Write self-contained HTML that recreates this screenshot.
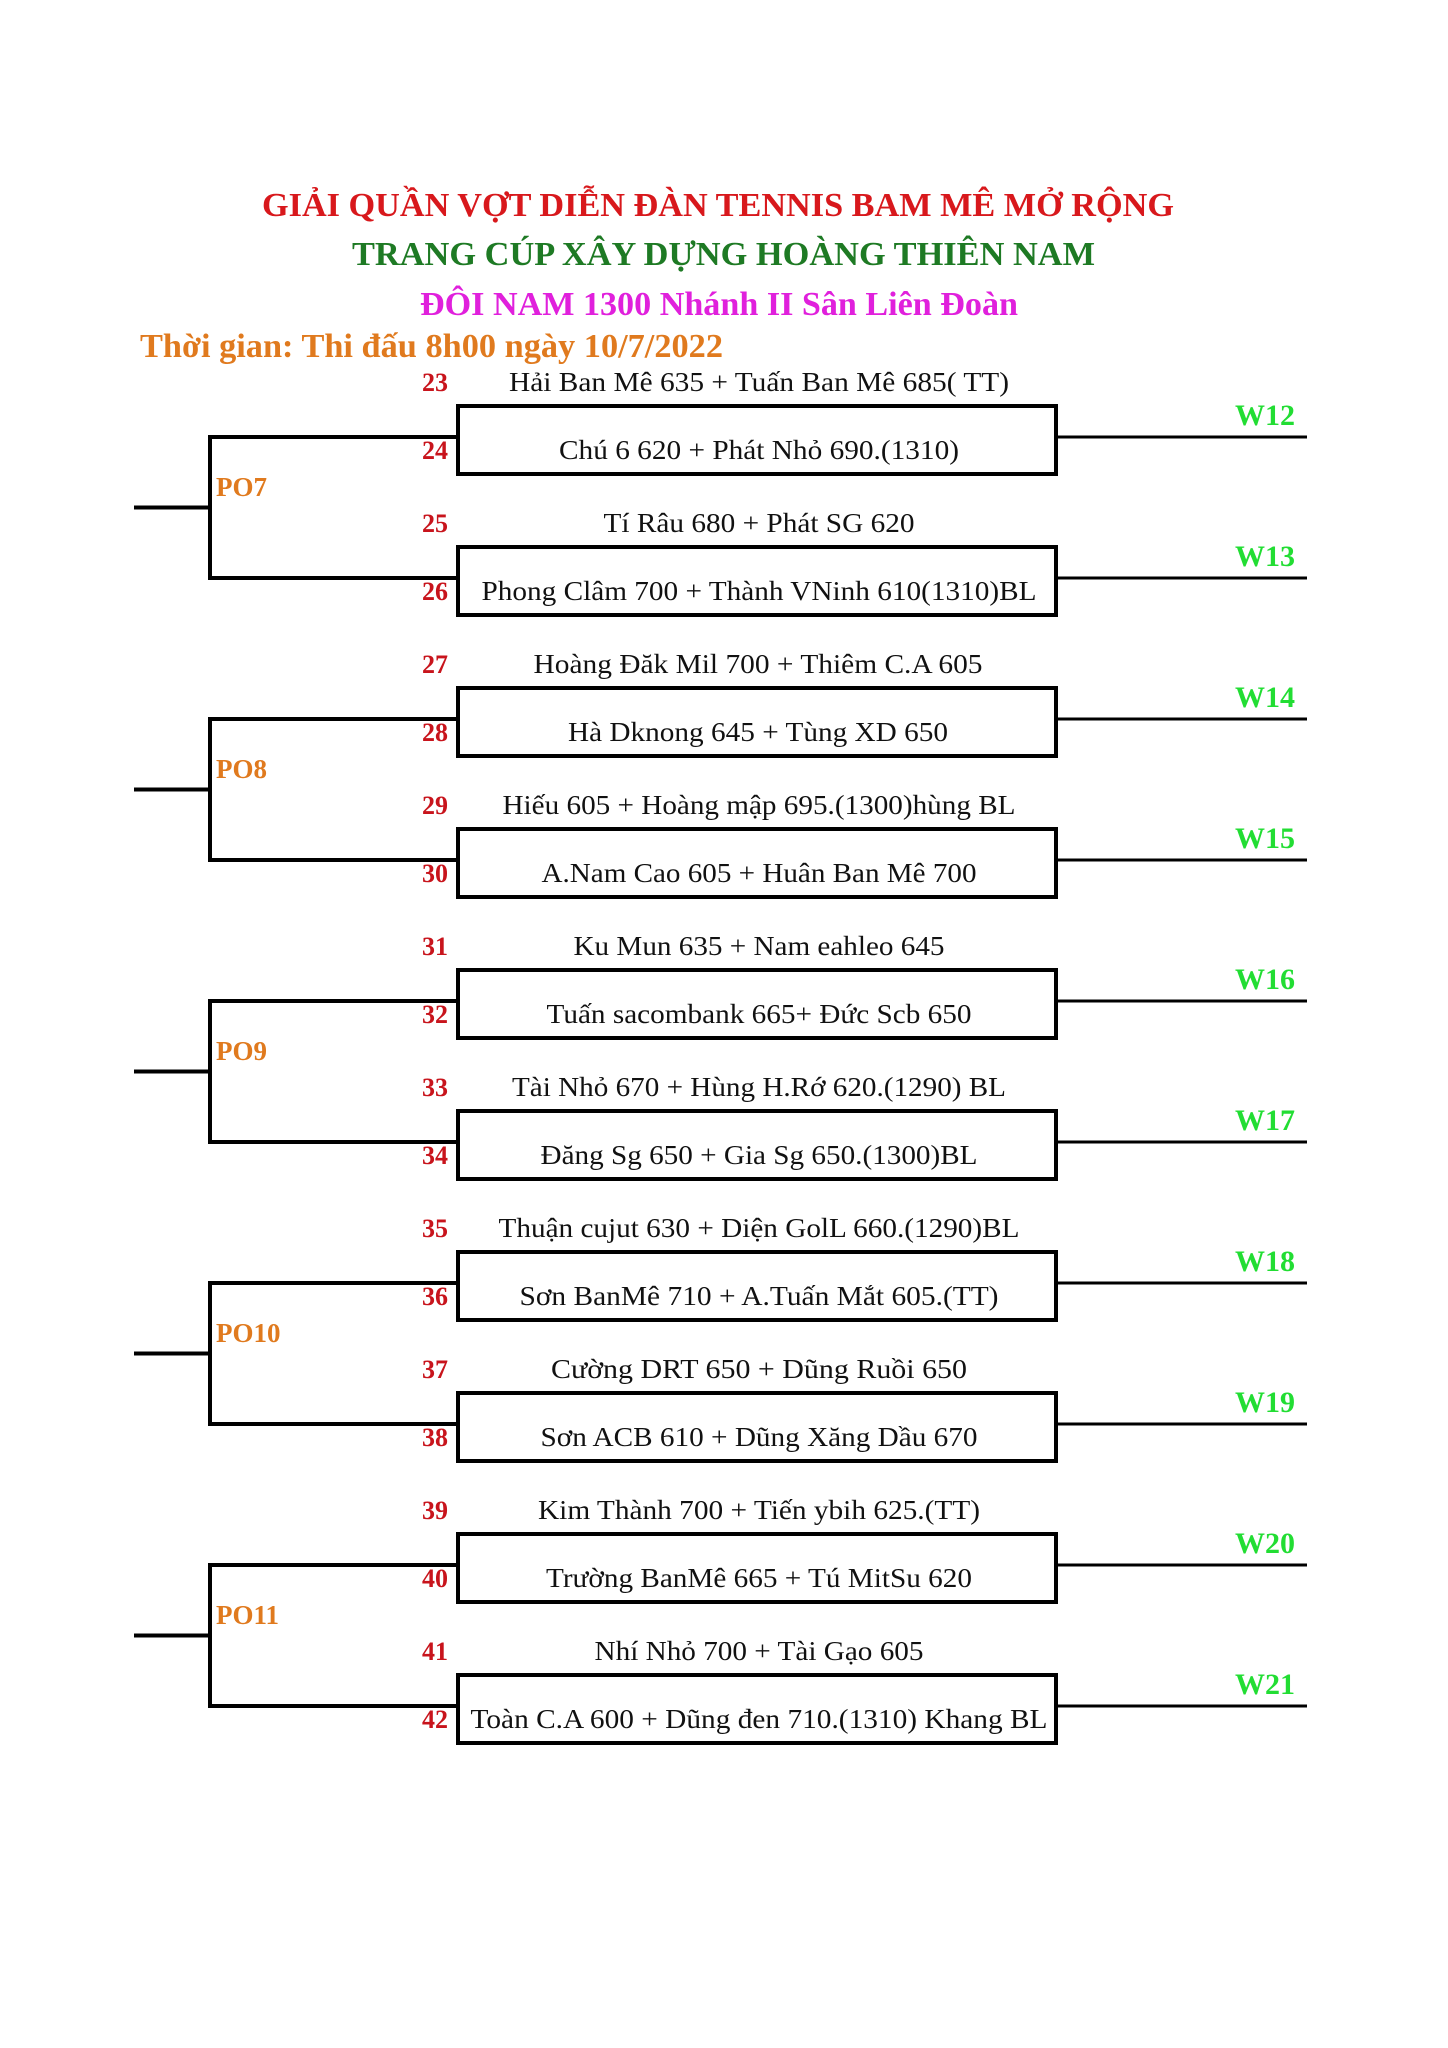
<!DOCTYPE html>
<html><head><meta charset="utf-8"><style>
html,body{margin:0;padding:0;background:#fff;}
svg{display:block;}
.t{font-family:"Liberation Serif",serif;font-weight:bold;}
.e{font-family:"Liberation Serif",serif;font-size:27px;fill:#111;text-anchor:middle;}
.n{font-family:"Liberation Serif",serif;font-weight:bold;font-size:26px;fill:#c8141c;}
.w{font-family:"Liberation Serif",serif;font-weight:bold;font-size:30px;fill:#22dd33;}
.p{font-family:"Liberation Serif",serif;font-weight:bold;font-size:27px;fill:#e07a1e;}
</style></head><body>
<svg width="1448" height="2048" viewBox="0 0 1448 2048" xmlns="http://www.w3.org/2000/svg">
<rect width="1448" height="2048" fill="#fff"/>
<text class="t" x="262" y="216" font-size="34" fill="#d8181c" textLength="912" lengthAdjust="spacingAndGlyphs">GIẢI QUẦN VỢT DIỄN ĐÀN TENNIS BAM MÊ MỞ RỘNG</text>
<text class="t" x="352" y="265" font-size="34" fill="#1e7a24" textLength="743" lengthAdjust="spacingAndGlyphs">TRANG CÚP XÂY DỰNG HOÀNG THIÊN NAM</text>
<text class="t" x="420" y="315" font-size="34" fill="#e020dc" textLength="598" lengthAdjust="spacingAndGlyphs">ĐÔI NAM 1300 Nhánh II Sân Liên Đoàn</text>
<text class="t" x="140" y="357" font-size="34" fill="#e07a1e" textLength="583" lengthAdjust="spacingAndGlyphs">Thời gian: Thi đấu 8h00 ngày 10/7/2022</text>

<g fill="none" stroke="#000">
<!-- boxes -->
<rect x="458" y="406" width="598" height="68" stroke-width="4"/>
<rect x="458" y="547" width="598" height="68" stroke-width="4"/>
<rect x="458" y="688" width="598" height="68" stroke-width="4"/>
<rect x="458" y="829" width="598" height="68" stroke-width="4"/>
<rect x="458" y="970" width="598" height="68" stroke-width="4"/>
<rect x="458" y="1111" width="598" height="68" stroke-width="4"/>
<rect x="458" y="1252" width="598" height="68" stroke-width="4"/>
<rect x="458" y="1393" width="598" height="68" stroke-width="4"/>
<rect x="458" y="1534" width="598" height="68" stroke-width="4"/>
<rect x="458" y="1675" width="598" height="68" stroke-width="4"/>
<!-- W lines -->
<g stroke-width="3">
<line x1="1058" y1="437" x2="1307" y2="437"/>
<line x1="1058" y1="578" x2="1307" y2="578"/>
<line x1="1058" y1="719" x2="1307" y2="719"/>
<line x1="1058" y1="860" x2="1307" y2="860"/>
<line x1="1058" y1="1001" x2="1307" y2="1001"/>
<line x1="1058" y1="1142" x2="1307" y2="1142"/>
<line x1="1058" y1="1283" x2="1307" y2="1283"/>
<line x1="1058" y1="1424" x2="1307" y2="1424"/>
<line x1="1058" y1="1565" x2="1307" y2="1565"/>
<line x1="1058" y1="1706" x2="1307" y2="1706"/>
</g>
<!-- brackets -->
<g stroke-width="4">
<polyline points="458,437 210,437 210,578 458,578"/>
<line x1="134" y1="507.5" x2="210" y2="507.5"/>
<polyline points="458,719 210,719 210,860 458,860"/>
<line x1="134" y1="789.5" x2="210" y2="789.5"/>
<polyline points="458,1001 210,1001 210,1142 458,1142"/>
<line x1="134" y1="1071.5" x2="210" y2="1071.5"/>
<polyline points="458,1283 210,1283 210,1424 458,1424"/>
<line x1="134" y1="1353.5" x2="210" y2="1353.5"/>
<polyline points="458,1565 210,1565 210,1706 458,1706"/>
<line x1="134" y1="1635.5" x2="210" y2="1635.5"/>
</g>
</g>

<!-- PO labels -->
<text class="p" x="216" y="496">PO7</text>
<text class="p" x="216" y="778">PO8</text>
<text class="p" x="216" y="1060">PO9</text>
<text class="p" x="216" y="1342">PO10</text>
<text class="p" x="216" y="1624">PO11</text>

<!-- W labels -->
<text class="w" x="1235" y="425">W12</text>
<text class="w" x="1235" y="566">W13</text>
<text class="w" x="1235" y="707">W14</text>
<text class="w" x="1235" y="848">W15</text>
<text class="w" x="1235" y="989">W16</text>
<text class="w" x="1235" y="1130">W17</text>
<text class="w" x="1235" y="1271">W18</text>
<text class="w" x="1235" y="1412">W19</text>
<text class="w" x="1235" y="1553">W20</text>
<text class="w" x="1235" y="1694">W21</text>

<!-- numbers -->
<text class="n" x="422" y="391">23</text><text class="n" x="422" y="459">24</text>
<text class="n" x="422" y="532">25</text><text class="n" x="422" y="600">26</text>
<text class="n" x="422" y="673">27</text><text class="n" x="422" y="741">28</text>
<text class="n" x="422" y="814">29</text><text class="n" x="422" y="882">30</text>
<text class="n" x="422" y="955">31</text><text class="n" x="422" y="1023">32</text>
<text class="n" x="422" y="1096">33</text><text class="n" x="422" y="1164">34</text>
<text class="n" x="422" y="1237">35</text><text class="n" x="422" y="1305">36</text>
<text class="n" x="422" y="1378">37</text><text class="n" x="422" y="1446">38</text>
<text class="n" x="422" y="1519">39</text><text class="n" x="422" y="1587">40</text>
<text class="n" x="422" y="1660">41</text><text class="n" x="422" y="1728">42</text>

<!-- entries -->
<text class="e" x="759" y="391" textLength="500" lengthAdjust="spacingAndGlyphs">Hải Ban Mê 635 + Tuấn Ban Mê 685( TT)</text>
<text class="e" x="759" y="459" textLength="400" lengthAdjust="spacingAndGlyphs">Chú 6 620 + Phát Nhỏ 690.(1310)</text>
<text class="e" x="759" y="532" textLength="311" lengthAdjust="spacingAndGlyphs">Tí Râu 680 + Phát SG 620</text>
<text class="e" x="759" y="600" textLength="555" lengthAdjust="spacingAndGlyphs">Phong Clâm 700 + Thành VNinh 610(1310)BL</text>
<text class="e" x="758" y="673" textLength="449" lengthAdjust="spacingAndGlyphs">Hoàng Đăk Mil 700 + Thiêm C.A 605</text>
<text class="e" x="758" y="741" textLength="380" lengthAdjust="spacingAndGlyphs">Hà Dknong 645 + Tùng XD 650</text>
<text class="e" x="759" y="814" textLength="513" lengthAdjust="spacingAndGlyphs">Hiếu 605 + Hoàng mập 695.(1300)hùng BL</text>
<text class="e" x="759" y="882" textLength="435" lengthAdjust="spacingAndGlyphs">A.Nam Cao 605 + Huân Ban Mê 700</text>
<text class="e" x="759" y="955" textLength="371" lengthAdjust="spacingAndGlyphs">Ku Mun 635 + Nam eahleo 645</text>
<text class="e" x="759" y="1023" textLength="425" lengthAdjust="spacingAndGlyphs">Tuấn sacombank 665+ Đức Scb 650</text>
<text class="e" x="759" y="1096" textLength="494" lengthAdjust="spacingAndGlyphs">Tài Nhỏ 670 + Hùng H.Rớ 620.(1290) BL</text>
<text class="e" x="759" y="1164" textLength="437" lengthAdjust="spacingAndGlyphs">Đăng Sg 650 + Gia Sg 650.(1300)BL</text>
<text class="e" x="759" y="1237" textLength="521" lengthAdjust="spacingAndGlyphs">Thuận cujut 630 + Diện GolL 660.(1290)BL</text>
<text class="e" x="759" y="1305" textLength="479" lengthAdjust="spacingAndGlyphs">Sơn BanMê 710 + A.Tuấn Mắt 605.(TT)</text>
<text class="e" x="759" y="1378" textLength="416" lengthAdjust="spacingAndGlyphs">Cường DRT 650  + Dũng Ruồi 650</text>
<text class="e" x="759" y="1446" textLength="437" lengthAdjust="spacingAndGlyphs">Sơn ACB 610 + Dũng Xăng Dầu 670</text>
<text class="e" x="759" y="1519" textLength="442" lengthAdjust="spacingAndGlyphs">Kim Thành 700 + Tiến ybih 625.(TT)</text>
<text class="e" x="759" y="1587" textLength="426" lengthAdjust="spacingAndGlyphs">Trường BanMê 665 + Tú MitSu 620</text>
<text class="e" x="759" y="1660" textLength="329" lengthAdjust="spacingAndGlyphs">Nhí Nhỏ 700 + Tài Gạo 605</text>
<text class="e" x="759" y="1728" textLength="577" lengthAdjust="spacingAndGlyphs">Toàn C.A 600 + Dũng đen 710.(1310) Khang BL</text>
</svg>
</body></html>
